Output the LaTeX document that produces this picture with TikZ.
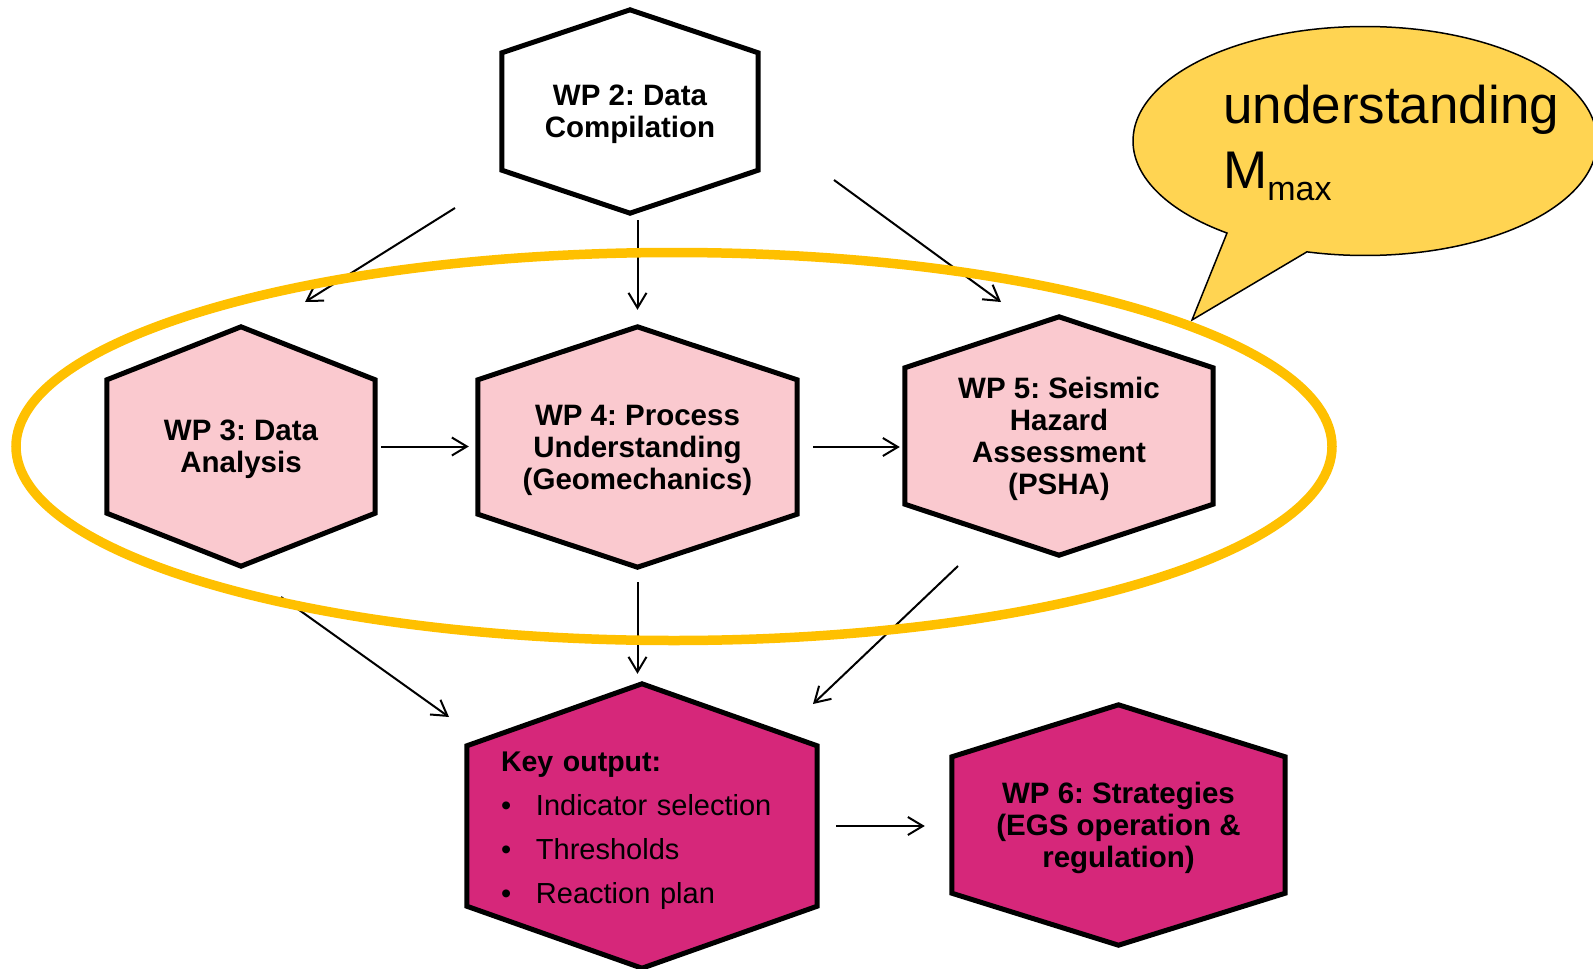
\documentclass[tikz,border=0pt]{standalone}
\usepackage{fontspec}
\setmainfont{Liberation Sans}
\usetikzlibrary{arrows.meta,backgrounds,shapes.callouts}
\frenchspacing

\definecolor{wppink}{RGB}{250,201,207}
\definecolor{wpmagenta}{RGB}{214,39,122}
\definecolor{ringgold}{RGB}{255,192,0}
\definecolor{bubblegold}{RGB}{255,212,82}

\newcommand{\wpfont}{\fontsize{29.5}{32}\selectfont\bfseries}
\newcommand{\wpstrut}{\rule{0pt}{26.5pt}}
% hexagon round a box node: name, shoulder, fill
\newcommand{\hexa}[3]{%
  \filldraw[hexline, fill=#3] (#1.north) -- ([yshift=-#2]#1.north east) -- ([yshift=#2]#1.south east)
    -- (#1.south) -- ([yshift=#2]#1.south west) -- ([yshift=-#2]#1.north west) -- cycle;}

\tikzset{
  wp/.style={inner sep=0pt, align=center, font=\wpfont},
  hexline/.style={draw=black, line width=5pt},
  flow/.style={->, line width=2pt},
  ring/.style={draw=ringgold, line width=9.5pt},
}

\begin{document}
\begin{tikzpicture}[x=1pt, y=-1pt, >={Straight Barb[length=15pt,width=18pt]}]
	\useasboundingbox (0,0) rectangle (1593,969);

	% work packages
	\node[wp, minimum width=256pt, minimum height=203pt] (wp2) at (630,111.5) {\wpstrut WP 2: Data\\Compilation};
	\node[wp, minimum width=268pt, minimum height=239pt] (wp3) at (241,446.5) {\wpstrut WP 3: Data\\Analysis};
	\node[wp, minimum width=319pt, minimum height=240pt] (wp4) at (637.5,447) {\wpstrut WP 4: Process\\Understanding\\(Geomechanics)};
	\node[wp, minimum width=308pt, minimum height=238pt] (wp5) at (1059,436) {\wpstrut WP 5: Seismic\\Hazard\\Assessment\\(PSHA)};
	\node[wp, minimum width=350pt, minimum height=284pt, text width=282pt, align=left,
		font=\fontsize{29}{44}\selectfont] (key) at (642,826)
		{{\bfseries\fontsize{28.5}{44}\selectfont\rule{0pt}{29pt}Key output:}\\
		\makebox[35pt][l]{\textbullet}Indicator selection\\
		\makebox[35pt][l]{\textbullet}Thresholds\\
		\makebox[35pt][l]{\textbullet}Reaction plan};
	\node[wp, minimum width=333pt, minimum height=240pt] (wp6) at (1118.5,825) {\wpstrut WP 6: Strategies\\(EGS operation \&\\regulation)};

	\begin{scope}[on background layer]
		\hexa{wp2}{43pt}{white}
		\hexa{wp3}{53pt}{wppink}
		\hexa{wp4}{53pt}{wppink}
		\hexa{wp5}{51pt}{wppink}
		\hexa{key}{62pt}{wpmagenta}
		\hexa{wp6}{52pt}{wpmagenta}
	\end{scope}

	% free arrow ends
	\coordinate (a23s) at (455,208);
	\coordinate (a23e) at (305,302);
	\coordinate (a25s) at (834,180);
	\coordinate (a25e) at (1001,302);
	\coordinate (a3ks) at (281,597);
	\coordinate (a3ke) at (449,717);
	\coordinate (a5ks) at (958,566);
	\coordinate (a5ke) at (813,704);

	\draw[flow] (a23s) -- (a23e);
	\draw[flow, shorten <=7pt, shorten >=17pt] (wp2.south -| wp4.north) -- (wp4.north);
	\draw[flow] (a25s) -- (a25e);
	\draw[flow, shorten <=6pt, shorten >=9pt] (wp3.east) -- (wp3.east -| wp4.west);
	\draw[flow, shorten <=16pt, shorten >=5pt] (wp4.east) -- (wp4.east -| wp5.west);
	\draw[flow] (a3ks) -- (a3ke);
	\draw[flow, shorten <=15pt, shorten >=10pt] (wp4.south) -- (wp4.south |- key.north);
	\draw[flow] (a5ks) -- (a5ke);
	\draw[flow, shorten <=19pt, shorten >=27pt] (key.east) -- (key.east -| wp6.west);

	% speech bubble
	\node[ellipse callout, draw=black, line width=1.5pt, fill=bubblegold, inner sep=0pt,
		minimum width=464pt, minimum height=229pt,
		callout absolute pointer={(1192,320)}, callout pointer arc=22] (bubble) at (1365,141) {};
	\node[anchor=base west, inner sep=0pt, font=\fontsize{53}{60}\selectfont] (und) at (1223,123) {understanding};
	\node[anchor=base west, inner sep=0pt, font=\fontsize{53}{60}\selectfont] (mmax) at (1223,188)
		{M\raisebox{-12pt}{\fontsize{34}{34}\selectfont max}};

	% focus ring
	\draw[ring] (674,446.5) ellipse [x radius=658, y radius=194];
\end{tikzpicture}
\end{document}
